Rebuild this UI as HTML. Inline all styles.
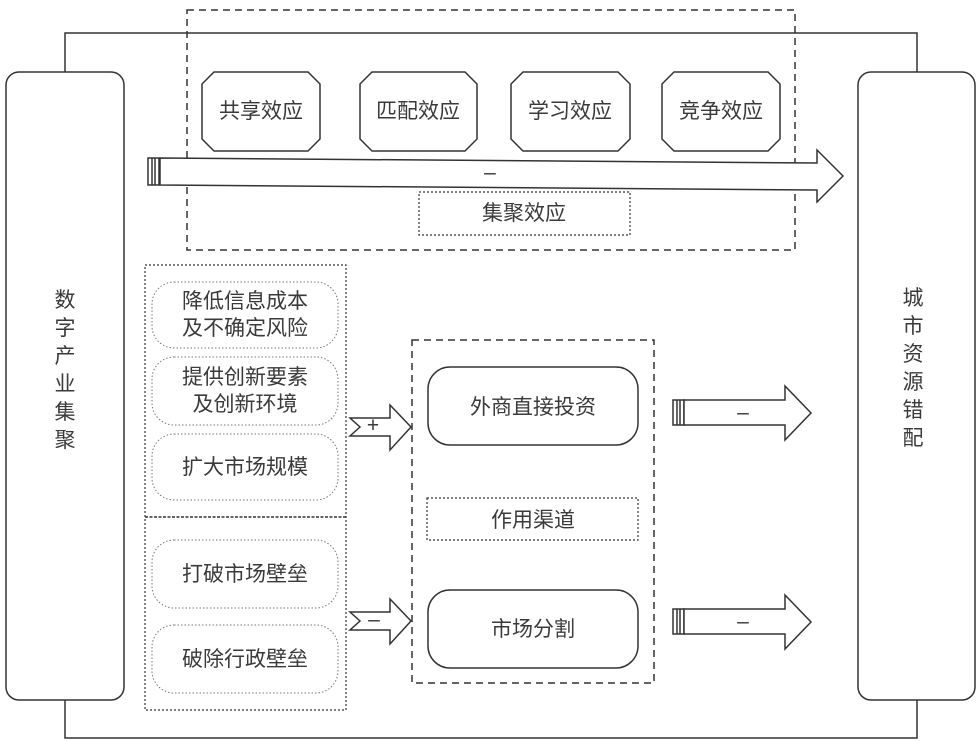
<!DOCTYPE html>
<html><head><meta charset="utf-8"><style>
html,body{margin:0;padding:0;background:#fff}
svg{display:block}
text{font-family:"Liberation Sans","Noto Sans CJK SC",sans-serif;fill:#3a3a3a;font-size:21px}
</style></head><body>
<svg width="978" height="741" viewBox="0 0 978 741" xmlns="http://www.w3.org/2000/svg">
<g fill="none" stroke="#333" stroke-width="1.5">
<polyline points="65,72 65,33 917,33 917,72"/>
<polyline points="65,700 65,738 917,738 917,700"/>
<rect x="6" y="72" width="118" height="628" rx="13"/>
<rect x="858" y="72" width="117" height="628" rx="13"/>
<rect x="187" y="10" width="608" height="240" stroke-dasharray="7,5"/>
<polygon points="214,72 308,72 320,84 320,139 308,151 214,151 202,139 202,84"/>
<polygon points="372,72 465,72 477,84 477,139 465,151 372,151 360,139 360,84"/>
<polygon points="523,72 618,72 630,84 630,139 618,151 523,151 511,139 511,84"/>
<polygon points="674,72 768,72 780,84 780,139 768,151 674,151 662,139 662,84"/>
<rect x="148" y="158" width="11" height="27" fill="#fff"/>
<line x1="152" y1="158" x2="152" y2="185"/><line x1="155" y1="158" x2="155" y2="185"/>
<polygon points="160,158 817,163 817,150 843,176 817,202 817,190 160,185" fill="#fff"/>
<rect x="419" y="192" width="211" height="43" stroke-dasharray="2,2" stroke-width="1.2"/>
<rect x="145" y="265" width="201" height="445" stroke-dasharray="2,2" stroke-width="1.2"/>
<line x1="145" y1="517" x2="346" y2="517" stroke-dasharray="3,1.5"/>
<g stroke-dasharray="1.5,2" stroke-width="1" stroke="#777">
<rect x="152" y="282" width="186" height="66" rx="22"/>
<rect x="152" y="357" width="186" height="68" rx="22"/>
<rect x="152" y="434" width="186" height="66" rx="22"/>
<rect x="152" y="540" width="186" height="68" rx="22"/>
<rect x="152" y="625" width="186" height="68" rx="22"/>
</g>
<polygon points="350,418 390,418 390,405 411,427 390,450 390,436 350,436 360,427" fill="#fff"/>
<polygon points="350,612 390,612 390,599 411,621 390,644 390,630 350,630 360,621" fill="#fff"/>
<rect x="412" y="340" width="242" height="343" stroke-dasharray="7,5"/>
<rect x="428" y="367" width="210" height="78" rx="22"/>
<rect x="427" y="498" width="211" height="42" stroke-dasharray="2,2" stroke-width="1.2"/>
<rect x="428" y="590" width="210" height="78" rx="22"/>
<rect x="673" y="400" width="11" height="25" fill="#fff"/>
<line x1="677" y1="400" x2="677" y2="425"/><line x1="680" y1="400" x2="680" y2="425"/>
<polygon points="684,400 785,400 785,386 811,413 785,440 785,425 684,425" fill="#fff"/>
<rect x="673" y="609" width="11" height="25" fill="#fff"/>
<line x1="677" y1="609" x2="677" y2="634"/><line x1="680" y1="609" x2="680" y2="634"/>
<polygon points="684,609 785,609 785,595 811,622 785,649 785,634 684,634" fill="#fff"/>
</g>
<g text-anchor="middle">
<text x="261" y="118">共享效应</text>
<text x="418" y="118">匹配效应</text>
<text x="570" y="118">学习效应</text>
<text x="721" y="118">竞争效应</text>
<text x="490" y="179">–</text>
<text x="524" y="220">集聚效应</text>
<text x="245" y="308">降低信息成本</text>
<text x="245" y="335">及不确定风险</text>
<text x="245" y="384">提供创新要素</text>
<text x="245" y="411">及创新环境</text>
<text x="245" y="474">扩大市场规模</text>
<text x="245" y="581">打破市场壁垒</text>
<text x="245" y="666">破除行政壁垒</text>
<text x="373" y="432" font-size="16">+</text>
<text x="374" y="626">–</text>
<text x="533" y="414">外商直接投资</text>
<text x="533" y="527">作用渠道</text>
<text x="533" y="636">市场分割</text>
<text x="743" y="419">–</text>
<text x="743" y="628">–</text>
</g>
<g text-anchor="middle">
<text x="65" y="307">数</text><text x="65" y="335">字</text><text x="65" y="363">产</text>
<text x="65" y="391">业</text><text x="65" y="419">集</text><text x="65" y="447">聚</text>
<text x="913" y="305">城</text><text x="913" y="333">市</text><text x="913" y="361">资</text>
<text x="913" y="389">源</text><text x="913" y="417">错</text><text x="913" y="445">配</text>
</g>
</svg>
</body></html>
